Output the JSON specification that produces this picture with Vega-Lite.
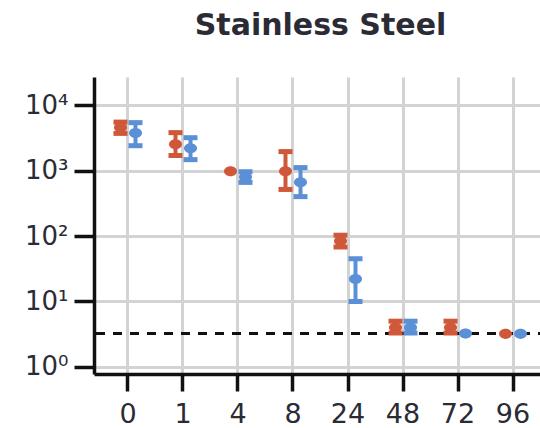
{
  "$schema": "https://vega.github.io/schema/vega-lite/v6.json",
  "autosize": {"type": "none"},
  "padding": {"left": 94, "top": 77, "right": 0, "bottom": 54},
  "width": 453,
  "height": 297,
  "title": {"text": "Stainless Steel", "font": "DejaVu Sans", "fontSize": 30, "fontWeight": "bold", "color": "#2b2b35", "anchor": "middle", "offset": 36},
  "config": {"view": {"stroke": null}},
  "data": {"values": [
    {"time": "0", "group": "A", "mean": 4550, "lo": 3700, "hi": 5500},
    {"time": "0", "group": "B", "mean": 3740, "lo": 2400, "hi": 5400},
    {"time": "1", "group": "A", "mean": 2530, "lo": 1700, "hi": 3800},
    {"time": "1", "group": "B", "mean": 2200, "lo": 1470, "hi": 3180},
    {"time": "4", "group": "A", "mean": 980, "lo": null, "hi": null},
    {"time": "4", "group": "B", "mean": 795, "lo": 660, "hi": 960},
    {"time": "8", "group": "A", "mean": 980, "lo": 515, "hi": 1950},
    {"time": "8", "group": "B", "mean": 665, "lo": 400, "hi": 1110},
    {"time": "24", "group": "A", "mean": 84, "lo": 68, "hi": 103},
    {"time": "24", "group": "B", "mean": 22, "lo": 10, "hi": 45},
    {"time": "48", "group": "A", "mean": 4.0, "lo": 3.3, "hi": 5.0},
    {"time": "48", "group": "B", "mean": 4.0, "lo": 3.3, "hi": 5.0},
    {"time": "72", "group": "A", "mean": 4.0, "lo": 3.3, "hi": 5.0},
    {"time": "72", "group": "B", "mean": 3.25, "lo": null, "hi": null},
    {"time": "96", "group": "A", "mean": 3.2, "lo": null, "hi": null},
    {"time": "96", "group": "B", "mean": 3.2, "lo": null, "hi": null}
  ]},
  "encoding": {
    "x": {"field": "time", "type": "ordinal", "sort": ["0","1","4","8","24","48","72","96"],
      "scale": {"type": "band", "paddingInner": 0, "paddingOuter": 0.118},
      "axis": {"title": null, "labelAngle": 0, "bandPosition": 0.5, "grid": true, "gridColor": "#d3d3d3", "gridWidth": 3,
        "domainColor": "#111111", "domainWidth": 3.5, "tickColor": "#111111", "tickWidth": 3.5, "tickSize": 17,
        "labelFont": "DejaVu Sans", "labelFontSize": 27, "labelColor": "#2b2b35", "labelPadding": 10}},
    "xOffset": {"field": "group", "type": "nominal", "scale": {"domain": ["A","B"], "paddingInner": 0, "paddingOuter": 0.833}},
    "color": {"field": "group", "type": "nominal", "scale": {"domain": ["A","B"], "range": ["#d0583a", "#5b8fd6"]}, "legend": null}
  },
  "layer": [
    {"mark": {"type": "rule", "color": "#111111", "strokeWidth": 2, "strokeDash": [9, 8]},
     "encoding": {"y": {"datum": 3.2, "type": "quantitative", "scale": {"type": "log"}}, "color": {"value": "#111111"}, "x": null, "xOffset": null}},
    {"mark": {"type": "rule", "strokeWidth": 4},
     "encoding": {"y": {"field": "lo", "type": "quantitative"}, "y2": {"field": "hi"}}},
    {"mark": {"type": "tick", "size": 14, "thickness": 5, "opacity": 1},
     "encoding": {"y": {"field": "lo", "type": "quantitative"}}},
    {"mark": {"type": "tick", "size": 14, "thickness": 5, "opacity": 1},
     "encoding": {"y": {"field": "hi", "type": "quantitative"}}},
    {"mark": {"type": "point", "filled": true, "size": 169, "opacity": 1, "shape": "M -1 0 A 1 0.77 0 1 0 1 0 A 1 0.77 0 1 0 -1 0 Z"},
     "encoding": {"y": {"field": "mean", "type": "quantitative",
       "scale": {"type": "log", "domain": [0.78, 26900], "nice": false},
       "axis": {"title": null, "values": [1, 10, 100, 1000, 10000],
         "labelExpr": "datum.value == 1 ? '10⁰' : datum.value == 10 ? '10¹' : datum.value == 100 ? '10²' : datum.value == 1000 ? '10³' : '10⁴'",
         "grid": true, "gridColor": "#d3d3d3", "gridWidth": 3,
         "domainColor": "#111111", "domainWidth": 3.5, "tickColor": "#111111", "tickWidth": 3.5, "tickSize": 20,
         "labelFont": "DejaVu Sans", "labelFontSize": 26, "labelColor": "#2b2b35", "labelPadding": 6}}}}
  ],
  "resolve": {"scale": {"y": "shared"}}
}
